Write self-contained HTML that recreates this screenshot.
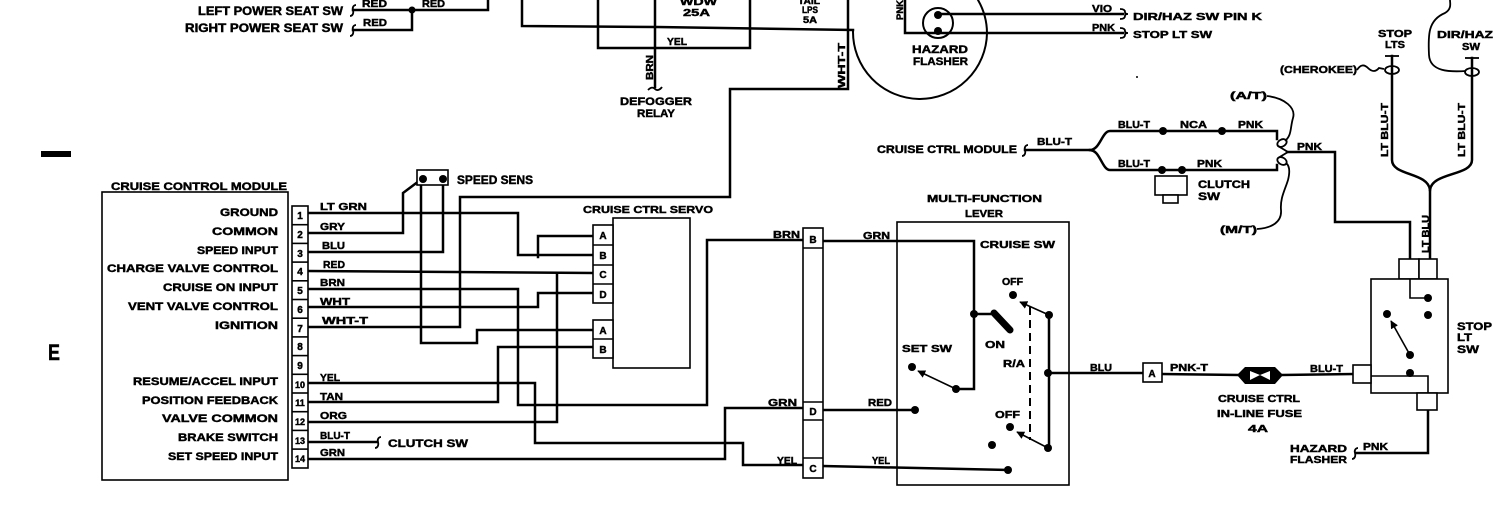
<!DOCTYPE html>
<html><head><meta charset="utf-8"><style>
html,body{margin:0;padding:0;background:#fff;}
svg{display:block;}
text{font-family:"Liberation Sans",Arial,sans-serif;font-weight:bold;fill:#000;stroke:#000;stroke-width:0.45px;}
</style></head><body>
<svg width="1503" height="513" viewBox="0 0 1503 513" xmlns="http://www.w3.org/2000/svg">
<defs>
<marker id="ah" viewBox="0 0 10 10" refX="9" refY="5" markerWidth="8" markerHeight="8" markerUnits="userSpaceOnUse" orient="auto"><path d="M0,0 L10,5 L0,10 z" fill="#000"/></marker>
</defs>
<rect width="1503" height="513" fill="#fff"/>

<g fill="none" stroke="#000" stroke-width="2.5" stroke-linejoin="miter" stroke-linecap="square">
<polyline points="353,10 488,10 488,0"/>
<polyline points="353,30 412,30 412,10"/>
<polyline points="522,0 522,26 657,27 853,30"/>
<polyline points="598,0 598,48 750,48 750,0"/>
<polyline points="655,0 655,87"/>
<polyline points="848,0 848,89 730,89 730,197 460,197 460,327 308,327"/>
<path d="M853,31 A67,67 0 0 0 987,33 A67,67 0 0 0 978,0" stroke-width="2"/>
<circle cx="938" cy="23" r="15" stroke-width="2"/>
<polyline points="938,14 1123,14"/>
<polyline points="905,0 905,33 1123,33"/>

<polyline points="308,213 518,213 518,255 593,255"/>
<polyline points="538,257 538,236 593,236"/>
<polyline points="308,233 403,233 403,193 419,181"/>
<polyline points="308,252 443,252 443,182"/>
<polyline points="421,182 421,343 477,343 477,330 593,330"/>
<polyline points="308,271 593,273"/>
<polyline points="308,422 557,422 557,274"/>
<polyline points="308,289 518,289 518,405 707,405 707,240 803,240"/>
<polyline points="308,307 538,307 538,293 593,293"/>
<polyline points="308,383 535,383 535,443 743,443 743,465 803,465"/>
<polyline points="308,402 498,402 498,347 593,347"/>
<polyline points="308,442 377,442"/>
<polyline points="308,459 725,459 725,408 803,408"/>

<polyline points="823,241 974,241 974,389 956,389"/>
<polyline points="974,314 990,314"/>
<polyline points="823,410 915,410"/>
<polyline points="823,466 1008,470"/>
<polyline points="1049,315 1049,448"/>
<polyline points="1049,373 1143,373"/>
<polyline points="1162,374 1238,375"/>
<polyline points="1282,375 1353,374"/>

<polyline points="1428,410 1428,453 1356,453"/>
<polyline points="1410,355 1410,373"/>
<polyline points="1428,279 1428,315"/>

<path d="M1392,56 V160 C1392,176 1428,172 1430,190 V259"/>
<path d="M1472,58 V160 C1472,176 1432,172 1430,190"/>
<polyline points="1287,152 1335,152 1335,222 1410,222 1410,259"/>
<path d="M1025,150 H1090 C1100,150 1102,131 1110,131 H1277 V139"/>
<path d="M1090,150 C1100,150 1102,170 1110,170 H1277 V165"/>
</g>

<g fill="none" stroke="#000" stroke-width="1.8">
<line x1="1385" y1="56" x2="1399" y2="56"/>
<line x1="1465" y1="58" x2="1479" y2="58"/>
<ellipse cx="1392" cy="70" rx="7" ry="4"/>
<ellipse cx="1472" cy="72" rx="7" ry="4"/>
<path d="M1357,70 q5,-8 11,-2 q6,6 11,0 l5,1"/>
<path d="M1466,71 C1450,72 1430,72 1429,55 C1428,35 1428,20 1445,13 C1452,9 1450,3 1450,0"/>
<ellipse cx="1282" cy="143" rx="5" ry="3.5" transform="rotate(-30 1282 143)"/>
<ellipse cx="1282" cy="161" rx="5" ry="3.5" transform="rotate(30 1282 161)"/>
<polyline points="1278,146 1288,152 1278,158"/>
<path d="M1267,96 C1285,98 1296,108 1293,118 C1290,128 1292,135 1285,141"/>
<path d="M1257,229 C1272,228 1282,222 1281,210 C1280,198 1285,190 1288,180 C1290,172 1290,166 1286,163"/>
<path d="M350,16 c2,0 4,-2 3,-6 c-1,-3 1,-5 3,-5"/>
<path d="M350,36 c2,0 4,-2 3,-6 c-1,-3 1,-5 3,-5"/>
<path d="M375,448 c2,0 4,-2 3,-6 c-1,-3 1,-5 3,-5"/>
<path d="M1022,156 c2,0 4,-2 3,-6 c-1,-3 1,-5 3,-5"/>
<path d="M1352,459 c2,0 4,-2 3,-6 c-1,-3 1,-5 3,-5"/>
<path d="M648,90 c3,-3 5,-3 7,-1 c2,2 5,1 7,-2"/>
<path d="M1120,9 q5,0 5,3 q0,2 3,2 q-3,0 -3,2 q0,3 -5,3"/>
<path d="M1120,28 q5,0 5,3 q0,2 3,2 q-3,0 -3,2 q0,3 -5,3"/>
</g>

<g fill="#fff" stroke="#000" stroke-width="1.6">
<rect x="102" y="192" width="186" height="288"/>
<rect x="292" y="206" width="16" height="262"/>
<rect x="613" y="218" width="77" height="150"/>
<rect x="593" y="225" width="20" height="78"/>
<rect x="593" y="320" width="20" height="38"/>
<rect x="417" y="170" width="31" height="15"/>
<rect x="897" y="222" width="172" height="263" fill="none"/>
<rect x="803" y="228" width="20" height="250"/>
<rect x="1143" y="363" width="19" height="19"/>
<rect x="1155" y="176" width="32" height="19"/>
<rect x="1163" y="195" width="15" height="8"/>
<rect x="1399" y="259" width="20" height="20"/>
<rect x="1419" y="259" width="18" height="20"/>
<rect x="1371" y="279" width="77" height="114"/>
<rect x="1353" y="365" width="18" height="18"/>
<rect x="1417" y="393" width="20" height="17"/>
</g>
<g fill="none" stroke="#000" stroke-width="1.6">
<line x1="292" y1="224.7" x2="308" y2="224.7"/>
<line x1="292" y1="243.4" x2="308" y2="243.4"/>
<line x1="292" y1="262.1" x2="308" y2="262.1"/>
<line x1="292" y1="280.8" x2="308" y2="280.8"/>
<line x1="292" y1="299.5" x2="308" y2="299.5"/>
<line x1="292" y1="318.2" x2="308" y2="318.2"/>
<line x1="292" y1="336.9" x2="308" y2="336.9"/>
<line x1="292" y1="355.6" x2="308" y2="355.6"/>
<line x1="292" y1="374.3" x2="308" y2="374.3"/>
<line x1="292" y1="393" x2="308" y2="393"/>
<line x1="292" y1="411.7" x2="308" y2="411.7"/>
<line x1="292" y1="430.4" x2="308" y2="430.4"/>
<line x1="292" y1="449.1" x2="308" y2="449.1"/>
<line x1="593" y1="245" x2="613" y2="245"/>
<line x1="593" y1="265" x2="613" y2="265"/>
<line x1="593" y1="284" x2="613" y2="284"/>
<line x1="593" y1="339" x2="613" y2="339"/>
<line x1="803" y1="248" x2="823" y2="248"/>
<line x1="803" y1="402" x2="823" y2="402"/>
<line x1="803" y1="420" x2="823" y2="420"/>
<line x1="803" y1="458" x2="823" y2="458"/>
<polyline points="1410,279 1410,298 1428,298"/>
<polyline points="1371,376 1428,376 1428,393"/>
</g>

<g fill="none" stroke="#000" stroke-width="1.6">
<line x1="1049" y1="315" x2="1020" y2="302" marker-end="url(#ah)"/>
<line x1="956" y1="389" x2="918" y2="371" marker-end="url(#ah)"/>
<line x1="1048" y1="448" x2="1017" y2="432" marker-end="url(#ah)"/>
<line x1="1410" y1="355" x2="1391" y2="321" marker-end="url(#ah)"/>
<line x1="1030" y1="307" x2="1030" y2="440" stroke-width="2" stroke-dasharray="8,5"/>
</g>
<line x1="994" y1="313" x2="1010" y2="330" stroke="#000" stroke-width="7" stroke-linecap="round"/>

<g fill="#000">
<circle cx="412" cy="10" r="3.5"/>
<circle cx="938" cy="15" r="4"/>
<circle cx="938" cy="31" r="4"/>
<circle cx="423" cy="179" r="4"/>
<circle cx="443" cy="179" r="4"/>
<circle cx="1163" cy="131" r="4"/>
<circle cx="1222" cy="131" r="4"/>
<circle cx="1162" cy="170" r="4"/>
<circle cx="1182" cy="170" r="4"/>
<circle cx="974" cy="314" r="4"/>
<circle cx="1013" cy="295" r="4"/>
<circle cx="1049" cy="315" r="4"/>
<circle cx="1048" cy="373" r="4"/>
<circle cx="912" cy="367" r="4"/>
<circle cx="956" cy="389" r="4"/>
<circle cx="915" cy="410" r="4"/>
<circle cx="1010" cy="427" r="4"/>
<circle cx="1048" cy="448" r="4"/>
<circle cx="992" cy="445" r="4"/>
<circle cx="1008" cy="470" r="4"/>
<circle cx="1428" cy="298" r="4"/>
<circle cx="1428" cy="315" r="4"/>
<circle cx="1387" cy="314" r="4"/>
<circle cx="1410" cy="355" r="4"/>
<circle cx="1410" cy="373" r="4"/>
<circle cx="1137" cy="77" r="1"/>
<rect x="41" y="151" width="30" height="6"/>
<polygon points="1237,375 1245,367 1275,367 1283,375 1275,384 1245,384"/>
</g>
<g fill="#fff">
<polygon points="1250,371 1260,375 1250,380"/>
<polygon points="1270,371 1260,375 1270,380"/>
</g>

<g font-size="11">
<text x="48" y="360" font-size="22" textLength="12" lengthAdjust="spacingAndGlyphs">E</text>
<text x="198" y="15" textLength="145" lengthAdjust="spacingAndGlyphs" font-size="11.5">LEFT POWER SEAT SW</text>
<text x="185" y="32" textLength="158" lengthAdjust="spacingAndGlyphs" font-size="11.5">RIGHT POWER SEAT SW</text>
<text x="362" y="7" textLength="25" lengthAdjust="spacingAndGlyphs" font-size="10">RED</text>
<text x="422" y="7" textLength="23" lengthAdjust="spacingAndGlyphs" font-size="10">RED</text>
<text x="363" y="26" textLength="24" lengthAdjust="spacingAndGlyphs" font-size="10">RED</text>

<text x="680" y="5" textLength="37" lengthAdjust="spacingAndGlyphs" font-size="10">WDW</text>
<text x="683" y="16" textLength="27" lengthAdjust="spacingAndGlyphs" font-size="10">25A</text>
<text x="798" y="4" textLength="22" lengthAdjust="spacingAndGlyphs" font-size="9">TAIL</text>
<text x="802" y="13" textLength="16" lengthAdjust="spacingAndGlyphs" font-size="9">LPS</text>
<text x="803" y="23" textLength="14" lengthAdjust="spacingAndGlyphs" font-size="9">5A</text>
<text x="667" y="45" textLength="20" lengthAdjust="spacingAndGlyphs" font-size="10">YEL</text>
<text transform="translate(653,80) rotate(-90)" textLength="25" lengthAdjust="spacingAndGlyphs" font-size="10">BRN</text>
<text x="620" y="105" textLength="72" lengthAdjust="spacingAndGlyphs">DEFOGGER</text>
<text x="637" y="117" textLength="38" lengthAdjust="spacingAndGlyphs">RELAY</text>
<text transform="translate(845,88) rotate(-90)" textLength="45" lengthAdjust="spacingAndGlyphs" font-size="10">WHT-T</text>
<text transform="translate(903,20) rotate(-90)" textLength="20" lengthAdjust="spacingAndGlyphs" font-size="9">PNK</text>
<text x="912" y="53" textLength="56" lengthAdjust="spacingAndGlyphs">HAZARD</text>
<text x="913" y="65" textLength="55" lengthAdjust="spacingAndGlyphs">FLASHER</text>
<text x="1092" y="12" textLength="20" lengthAdjust="spacingAndGlyphs" font-size="10">VIO</text>
<text x="1133" y="20" textLength="129" lengthAdjust="spacingAndGlyphs" font-size="10.5">DIR/HAZ SW PIN K</text>
<text x="1092" y="31" textLength="23" lengthAdjust="spacingAndGlyphs" font-size="10">PNK</text>
<text x="1133" y="38" textLength="79" lengthAdjust="spacingAndGlyphs" font-size="10.5">STOP LT SW</text>
<text x="1378" y="37" textLength="34" lengthAdjust="spacingAndGlyphs" font-size="10">STOP</text>
<text x="1385" y="48" textLength="20" lengthAdjust="spacingAndGlyphs" font-size="10">LTS</text>
<text x="1437" y="38" textLength="56" lengthAdjust="spacingAndGlyphs" font-size="10">DIR/HAZ</text>
<text x="1462" y="50" textLength="18" lengthAdjust="spacingAndGlyphs" font-size="10">SW</text>
<text x="1280" y="73" textLength="77" lengthAdjust="spacingAndGlyphs" font-size="10">(CHEROKEE)</text>
<text x="1230" y="99" textLength="37" lengthAdjust="spacingAndGlyphs" font-size="10">(A/T)</text>
<text x="877" y="153" textLength="140" lengthAdjust="spacingAndGlyphs">CRUISE CTRL MODULE</text>
<text x="1037" y="145" textLength="35" lengthAdjust="spacingAndGlyphs" font-size="10">BLU-T</text>
<text x="1118" y="128" textLength="32" lengthAdjust="spacingAndGlyphs" font-size="10">BLU-T</text>
<text x="1180" y="128" textLength="27" lengthAdjust="spacingAndGlyphs" font-size="10">NCA</text>
<text x="1238" y="128" textLength="25" lengthAdjust="spacingAndGlyphs" font-size="10">PNK</text>
<text x="1118" y="167" textLength="32" lengthAdjust="spacingAndGlyphs" font-size="10">BLU-T</text>
<text x="1197" y="167" textLength="25" lengthAdjust="spacingAndGlyphs" font-size="10">PNK</text>
<text x="1198" y="188" textLength="52" lengthAdjust="spacingAndGlyphs">CLUTCH</text>
<text x="1198" y="200" textLength="22" lengthAdjust="spacingAndGlyphs">SW</text>
<text x="1297" y="150" textLength="25" lengthAdjust="spacingAndGlyphs" font-size="10">PNK</text>
<text transform="translate(1388,157) rotate(-90)" textLength="54" lengthAdjust="spacingAndGlyphs" font-size="10">LT BLU-T</text>
<text transform="translate(1465,157) rotate(-90)" textLength="54" lengthAdjust="spacingAndGlyphs" font-size="10">LT BLU-T</text>
<text x="1220" y="233" textLength="37" lengthAdjust="spacingAndGlyphs" font-size="10">(M/T)</text>
<text transform="translate(1429,253) rotate(-90)" textLength="38" lengthAdjust="spacingAndGlyphs" font-size="10">LT BLU</text>

<text x="111" y="190" textLength="176" lengthAdjust="spacingAndGlyphs">CRUISE CONTROL MODULE</text>
<text x="220" y="216" textLength="58" lengthAdjust="spacingAndGlyphs">GROUND</text>
<text x="212" y="235" textLength="66" lengthAdjust="spacingAndGlyphs">COMMON</text>
<text x="197" y="254" textLength="81" lengthAdjust="spacingAndGlyphs">SPEED INPUT</text>
<text x="107" y="272" textLength="171" lengthAdjust="spacingAndGlyphs">CHARGE VALVE CONTROL</text>
<text x="163" y="291" textLength="115" lengthAdjust="spacingAndGlyphs">CRUISE ON INPUT</text>
<text x="128" y="310" textLength="150" lengthAdjust="spacingAndGlyphs">VENT VALVE CONTROL</text>
<text x="215" y="329" textLength="63" lengthAdjust="spacingAndGlyphs">IGNITION</text>
<text x="133" y="385" textLength="145" lengthAdjust="spacingAndGlyphs">RESUME/ACCEL INPUT</text>
<text x="142" y="404" textLength="136" lengthAdjust="spacingAndGlyphs">POSITION FEEDBACK</text>
<text x="162" y="422" textLength="116" lengthAdjust="spacingAndGlyphs">VALVE COMMON</text>
<text x="178" y="441" textLength="100" lengthAdjust="spacingAndGlyphs">BRAKE SWITCH</text>
<text x="168" y="460" textLength="110" lengthAdjust="spacingAndGlyphs">SET SPEED INPUT</text>
</g>
<g font-size="10" text-anchor="middle">
<text x="300" y="219">1</text>
<text x="300" y="238">2</text>
<text x="300" y="257">3</text>
<text x="300" y="275">4</text>
<text x="300" y="294">5</text>
<text x="300" y="313">6</text>
<text x="300" y="332">7</text>
<text x="300" y="350">8</text>
<text x="300" y="369">9</text>
<text x="300" y="388" font-size="9">10</text>
<text x="300" y="406" font-size="9">11</text>
<text x="300" y="425" font-size="9">12</text>
<text x="300" y="444" font-size="9">13</text>
<text x="300" y="462" font-size="9">14</text>
<text x="603" y="239">A</text>
<text x="603" y="259">B</text>
<text x="603" y="278">C</text>
<text x="603" y="298">D</text>
<text x="603" y="334">A</text>
<text x="603" y="353">B</text>
<text x="813" y="243">B</text>
<text x="813" y="415">D</text>
<text x="813" y="472">C</text>
<text x="1152" y="377">A</text>
</g>
<g font-size="10.5">
<text x="320" y="210" textLength="47" lengthAdjust="spacingAndGlyphs">LT GRN</text>
<text x="320" y="230" textLength="25" lengthAdjust="spacingAndGlyphs">GRY</text>
<text x="322" y="249" textLength="23" lengthAdjust="spacingAndGlyphs">BLU</text>
<text x="323" y="268" textLength="22" lengthAdjust="spacingAndGlyphs">RED</text>
<text x="320" y="286" textLength="25" lengthAdjust="spacingAndGlyphs">BRN</text>
<text x="320" y="305" textLength="30" lengthAdjust="spacingAndGlyphs">WHT</text>
<text x="322" y="324" textLength="46" lengthAdjust="spacingAndGlyphs">WHT-T</text>
<text x="320" y="381" textLength="20" lengthAdjust="spacingAndGlyphs">YEL</text>
<text x="320" y="400" textLength="23" lengthAdjust="spacingAndGlyphs">TAN</text>
<text x="320" y="419" textLength="27" lengthAdjust="spacingAndGlyphs">ORG</text>
<text x="320" y="439" textLength="30" lengthAdjust="spacingAndGlyphs">BLU-T</text>
<text x="320" y="456" textLength="25" lengthAdjust="spacingAndGlyphs">GRN</text>
<text x="388" y="447" textLength="80" lengthAdjust="spacingAndGlyphs" font-size="11">CLUTCH SW</text>
<text x="457" y="184" textLength="76" lengthAdjust="spacingAndGlyphs" font-size="11.5">SPEED SENS</text>
<text x="583" y="213" textLength="130" lengthAdjust="spacingAndGlyphs">CRUISE CTRL SERVO</text>
<text x="927" y="202" textLength="115" lengthAdjust="spacingAndGlyphs">MULTI-FUNCTION</text>
<text x="965" y="217" textLength="38" lengthAdjust="spacingAndGlyphs">LEVER</text>
<text x="980" y="248" textLength="75" lengthAdjust="spacingAndGlyphs">CRUISE SW</text>
<text x="773" y="238" textLength="27" lengthAdjust="spacingAndGlyphs" font-size="10">BRN</text>
<text x="863" y="239" textLength="27" lengthAdjust="spacingAndGlyphs" font-size="10">GRN</text>
<text x="1002" y="285" textLength="21" lengthAdjust="spacingAndGlyphs" font-size="10">OFF</text>
<text x="985" y="348" textLength="20" lengthAdjust="spacingAndGlyphs" font-size="10">ON</text>
<text x="902" y="352" textLength="50" lengthAdjust="spacingAndGlyphs" font-size="10">SET SW</text>
<text x="1003" y="367" textLength="22" lengthAdjust="spacingAndGlyphs" font-size="10">R/A</text>
<text x="768" y="406" textLength="29" lengthAdjust="spacingAndGlyphs" font-size="10">GRN</text>
<text x="868" y="406" textLength="24" lengthAdjust="spacingAndGlyphs" font-size="10">RED</text>
<text x="995" y="418" textLength="25" lengthAdjust="spacingAndGlyphs" font-size="10">OFF</text>
<text x="777" y="464" textLength="20" lengthAdjust="spacingAndGlyphs" font-size="10">YEL</text>
<text x="872" y="464" textLength="18" lengthAdjust="spacingAndGlyphs" font-size="10">YEL</text>
<text x="1090" y="371" textLength="22" lengthAdjust="spacingAndGlyphs" font-size="10">BLU</text>
<text x="1170" y="371" textLength="38" lengthAdjust="spacingAndGlyphs" font-size="10">PNK-T</text>
<text x="1218" y="402" textLength="82" lengthAdjust="spacingAndGlyphs" font-size="10">CRUISE CTRL</text>
<text x="1217" y="417" textLength="85" lengthAdjust="spacingAndGlyphs" font-size="10">IN-LINE FUSE</text>
<text x="1248" y="432" textLength="20" lengthAdjust="spacingAndGlyphs" font-size="10">4A</text>
<text x="1310" y="372" textLength="33" lengthAdjust="spacingAndGlyphs" font-size="10">BLU-T</text>
<text x="1457" y="330" textLength="35" lengthAdjust="spacingAndGlyphs" font-size="11">STOP</text>
<text x="1457" y="341" textLength="15" lengthAdjust="spacingAndGlyphs" font-size="11">LT</text>
<text x="1457" y="353" textLength="22" lengthAdjust="spacingAndGlyphs" font-size="11">SW</text>
<text x="1290" y="452" textLength="57" lengthAdjust="spacingAndGlyphs" font-size="10">HAZARD</text>
<text x="1290" y="463" textLength="57" lengthAdjust="spacingAndGlyphs" font-size="10">FLASHER</text>
<text x="1363" y="450" textLength="25" lengthAdjust="spacingAndGlyphs" font-size="10">PNK</text>
</g>
</svg>
</body></html>
